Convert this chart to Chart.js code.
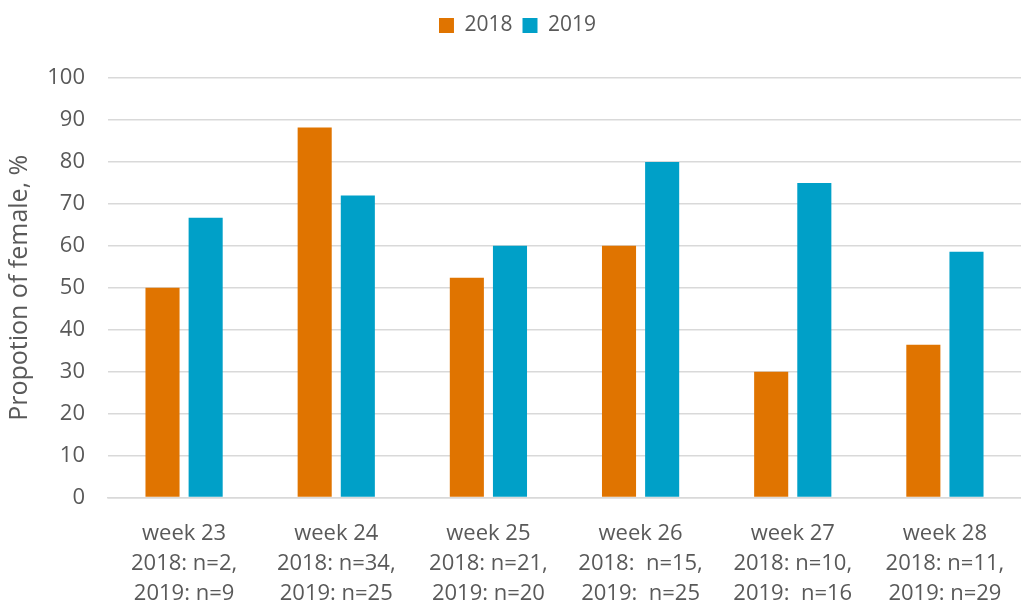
<!DOCTYPE html>
<html lang="en">

<head>
  <title></title>
  <meta charset="UTF-8">
  <script src="https://cdn.jsdelivr.net/npm/chart.js@4.4.1/dist/chart.umd.min.js"></script>
  <style>
    html, body { margin: 0; padding: 0; background: #fff; }
  </style>
</head>

<body>
  <canvas id="myChart" width="1021" height="610"></canvas>
  <script>
    const weeks = [
      ["week 23", "2018: n=2,", "2019: n=9"],
      ["week 24", "2018: n=34,", "2019: n=25"],
      ["week 25", "2018: n=21,", "2019: n=20"],
      ["week 26", "2018:  n=15,", "2019:  n=25"],
      ["week 27", "2018: n=10,", "2019:  n=16"],
      ["week 28", "2018: n=11,", "2019: n=29"]
    ];
    const female2018 = [50, 88.2, 52.4, 60, 30, 36.4];
    const female2019 = [66.7, 72, 60, 80, 75, 58.6];

    const grey = "#595959";
    const font = "'Open Sans', 'Noto Sans', sans-serif";

    // the original plot runs a little past the right edge
    const overhang = -9;

    // push the plot down below the legend, like the original
    const legendSpace = {
      id: "legendSpace",
      beforeInit(chart) {
        const fit = chart.legend.fit;
        chart.legend.fit = function () {
          fit.call(this);
          this.height += 32;
        };
      }
    };

    new Chart("myChart", {
      type: "bar",
      data: {
        labels: weeks,
        datasets: [
          { label: "2018", data: female2018, backgroundColor: "#e07400" },
          { label: "2019", data: female2019, backgroundColor: "#00a0c8" }
        ]
      },
      options: {
        responsive: false,
        animation: false,
        categoryPercentage: 0.567,
        barPercentage: 0.79,
        layout: { padding: { left: 5, right: overhang, top: 5, bottom: -20 } },
        plugins: {
          tooltip: { enabled: false },
          legend: {
            position: "top",
            labels: {
              color: grey,
              font: { family: font, size: 21 },
              boxWidth: 15,
              boxHeight: 15,
              padding: 10
            }
          }
        },
        scales: {
          x: {
            grid: { display: false, drawTicks: false },
            border: { color: "#d9d9d9", width: 1.5 },
            ticks: {
              color: grey,
              font: { family: font, size: 22, lineHeight: 1.37 },
              padding: 21,
              maxRotation: 0,
              autoSkip: false
            },
            afterFit(scale) {
              scale.paddingLeft = 0;
              scale.paddingRight = overhang;
            }
          },
          y: {
            min: 0,
            max: 100,
            grid: { color: "#d9d9d9", lineWidth: 1.5, drawTicks: false },
            border: { display: false },
            ticks: {
              stepSize: 10,
              color: grey,
              font: { family: font, size: 22 },
              padding: 23
            },
            title: {
              display: true,
              text: "Propotion of female, %",
              color: grey,
              font: { family: font, size: 25 },
              padding: { top: 0, bottom: 12 }
            },
            afterFit(scale) {
              scale.width = 103;
              scale.paddingRight = overhang;
            }
          }
        }
      },
      plugins: [legendSpace]
    });
  </script>
</body>

</html>
